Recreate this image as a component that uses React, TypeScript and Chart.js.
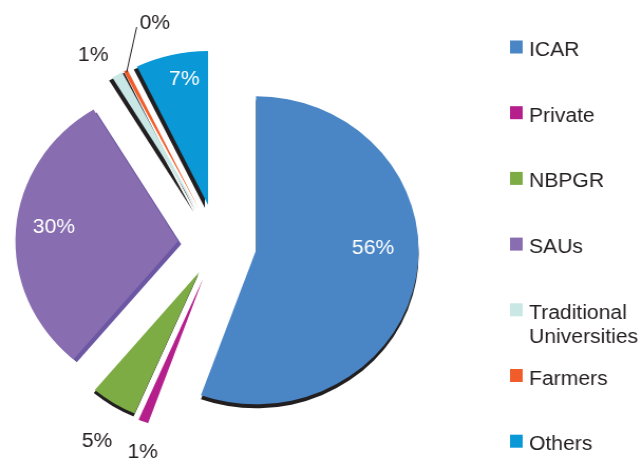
import React, { useEffect, useRef } from "react";
import { Chart, registerables } from "chart.js";

Chart.register(...registerables);

// ---------- data ----------
const LABELS = ["ICAR", "Private", "NBPGR", "SAUs", "Traditional Universities", "Farmers", "Others"];
const LEGEND_LINES = [["ICAR"], ["Private"], ["NBPGR"], ["SAUs"], ["Traditional", "Universities"], ["Farmers"], ["Others"]];
const VALUES = [55.5, 1.0, 4.6, 30.2, 1.1, 0.4, 7.2];
const COLORS = ["#4a86c6", "#b41f8c", "#7dac45", "#886db0", "#c8e7e5", "#f15d2a", "#0b98d6"];

// ---------- style ----------
const INTERNAL_W = 608;
const H = 460;
const EXPLODE = [37, 37, 33, 37.5, 40, 40, 40];
const SHADOWS: ({ dx: number; dy: number; c: string } | null)[] = [
  { dx: 0, dy: 4, c: "#231f20" },
  null,
  { dx: -1, dy: 3, c: "#231f20" },
  { dx: 3, dy: 3, c: "#6b57a3" },
  { dx: -3, dy: 3, c: "#231f20" },
  { dx: -3, dy: 3, c: "#231f20" },
  { dx: -3, dy: 3, c: "#231f20" },
];
const LABEL_DIST = [110.9, 182.3, 194.2, 118.5, 183.9, 190.7, 129];
const LABEL_DA = [-11.8, -3.3, -1.8, 3.2, -2.9, 14.1, 2.9];
const LABEL_INSIDE = [true, false, false, true, false, false, true];
const LEADERS: ({ d0: number; a0: number; d1: number; a1: number } | null)[] = [
  null, null, null, null, null, { d0: 152, a0: 0, d1: 190.4, a1: 8.7 }, null,
];
const TEXT_COLOR = "#231f20";
const FONT = '20px "Liberation Sans", Arial, sans-serif';

function explodeVec(arc: any, i: number) {
  const mid = (arc.startAngle + arc.endAngle) / 2;
  return [Math.cos(mid) * EXPLODE[i], Math.sin(mid) * EXPLODE[i], mid];
}

const explodePlugin = {
  id: "explodePie",
  beforeDatasetsDraw(chart: any) {
    const ctx = chart.ctx;
    const arcs = chart.getDatasetMeta(0).data;
    arcs.forEach((arc: any, i: number) => {
      const s = SHADOWS[i];
      if (!s) return;
      const [ox, oy] = explodeVec(arc, i);
      const orig = arc.options;
      arc.options = { ...orig, backgroundColor: s.c, borderWidth: 0 };
      ctx.save();
      ctx.translate(ox + s.dx, oy + s.dy);
      arc.draw(ctx);
      ctx.restore();
      arc.options = orig;
    });
    arcs.forEach((arc: any, i: number) => {
      const [ox, oy] = explodeVec(arc, i);
      ctx.save();
      ctx.translate(ox, oy);
      arc.draw(ctx);
      ctx.restore();
    });
    return false;
  },
  afterDraw(chart: any) {
    const ctx = chart.ctx;
    const arcs = chart.getDatasetMeta(0).data;
    const total = VALUES.reduce((a, b) => a + b, 0);
    ctx.save();
    ctx.font = FONT;
    ctx.textAlign = "center";
    ctx.textBaseline = "alphabetic";
    arcs.forEach((arc: any, i: number) => {
      const [ox, oy, mid] = explodeVec(arc, i);
      const vx = arc.x + ox;
      const vy = arc.y + oy;
      const a = mid + (LABEL_DA[i] * Math.PI) / 180;
      const px = vx + Math.cos(a) * LABEL_DIST[i];
      const py = vy + Math.sin(a) * LABEL_DIST[i];
      ctx.fillStyle = LABEL_INSIDE[i] ? "#ffffff" : TEXT_COLOR;
      ctx.fillText(Math.round((VALUES[i] / total) * 100) + "%", px, py + 7);
      const L = LEADERS[i];
      if (L) {
        const a0 = mid + (L.a0 * Math.PI) / 180;
        const a1 = mid + (L.a1 * Math.PI) / 180;
        ctx.beginPath();
        ctx.moveTo(vx + Math.cos(a0) * L.d0, vy + Math.sin(a0) * L.d0);
        ctx.lineTo(vx + Math.cos(a1) * L.d1, vy + Math.sin(a1) * L.d1);
        ctx.strokeStyle = TEXT_COLOR;
        ctx.lineWidth = 1;
        ctx.stroke();
      }
    });
    // legend
    ctx.textAlign = "left";
    const boxX = 483;
    const textX = 501;
    LEGEND_LINES.forEach((lines, i) => {
      const cy = 47 + 65.7 * i;
      ctx.fillStyle = COLORS[i];
      ctx.fillRect(boxX, cy - 6.5, 12, 13);
      ctx.fillStyle = TEXT_COLOR;
      lines.forEach((t, j) => ctx.fillText(t, textX, cy + 9 + j * 24));
    });
    ctx.restore();
  },
};

export default function App() {
  const ref = useRef<HTMLCanvasElement>(null);
  useEffect(() => {
    if (!ref.current) return;
    const chart = new Chart(ref.current, {
      type: "pie",
      data: {
        labels: LABELS,
        datasets: [
          {
            data: VALUES,
            backgroundColor: COLORS,
            borderWidth: 0,
          },
        ],
      },
      options: {
        responsive: false,
        animation: false,
        devicePixelRatio: 1,
        radius: 154,
        layout: { padding: { left: 0, right: INTERNAL_W - 412, top: 28, bottom: 0 } },
        plugins: { legend: { display: false }, tooltip: { enabled: false } },
        events: [],
      } as any,
      plugins: [explodePlugin as any],
    });
    return () => chart.destroy();
  }, []);
  return (
    <div style={{ position: "absolute", left: 0, top: 0, width: 642, height: H, background: "#fff" }}>
      <canvas ref={ref} width={INTERNAL_W} height={H} style={{ width: "642px", height: H + "px", display: "block" }} />
    </div>
  );
}
